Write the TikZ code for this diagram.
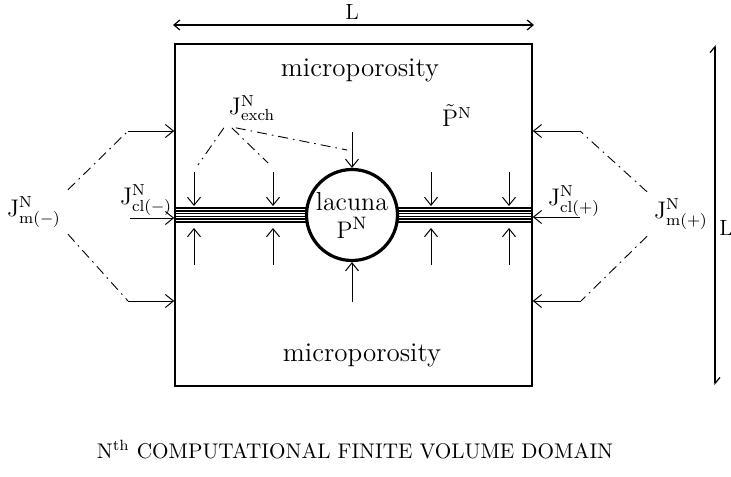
\documentclass[tikz,border=0pt]{standalone}
\usetikzlibrary{arrows.meta,positioning}
\begin{document}
\begin{tikzpicture}[
    x=0.5pt, y=-0.5pt,
    every node/.style={font=\fontsize{12}{14}\selectfont},
    fvbox/.style={rectangle, draw, line width=0.8pt, minimum width=178.5pt, minimum height=171pt, inner sep=0pt},
    lacuna/.style={circle, draw, fill=white, line width=1.6pt, minimum size=45.5pt, inner sep=0pt, align=center, font=\fontsize{13}{15}\selectfont},
    flux/.style={-{Straight Barb[length=4pt,width=6.5pt]}, line width=0.5pt},
    link/.style={line width=0.45pt, dash pattern=on 5pt off 2.5pt on 0.8pt off 2.5pt},
    band/.style={line width=0.75pt},
    dimline/.style={line width=0.6pt},
    porous/.style={font=\fontsize{13.5}{15}\selectfont},
    lbl/.style={font=\fontsize{11}{13}\selectfont, inner sep=1pt}
  ]
    \useasboundingbox (0,0) rectangle (731,476);
    \node[fvbox] (dom) at (353.5,215) {};
    \foreach \s in {-3.4,-2.04,-0.68,0.68,2.04,3.4}
      \draw[band] ([yshift=\s pt]dom.west) -- ([yshift=\s pt]dom.east);
    \node[lacuna] (lac) at (352,215) {lacuna\\[-1pt]$\mathrm{P}^{\mathrm{N}}$};
    \node[porous] (mtop) at (360,70) {microporosity};
    \node[porous] (mbot) at (362,355) {microporosity};
    \node (pt) at (457,116) {$\tilde{\mathrm{P}}^{\mathrm{N}}$};
    \node (jex) at (252,108) {$\mathrm{J}^{\mathrm{N}}_{\mathrm{exch}}$};
    \node (jml) at (34,212) {$\mathrm{J}^{\mathrm{N}}_{\mathrm{m(-)}}$};
    \node (jmr) at (681,214) {$\mathrm{J}^{\mathrm{N}}_{\mathrm{m(+)}}$};
    \node (jcl) at (146,200) {$\mathrm{J}^{\mathrm{N}}_{\mathrm{cl(-)}}$};
    \node (jcr) at (574,201) {$\mathrm{J}^{\mathrm{N}}_{\mathrm{cl(+)}}$};
    \node[lbl] (lx) at (352,12) {L};
    \node[lbl] (ly) at (726,228) {L};
    \node[font=\fontsize{10.6}{13}\selectfont] (title) at (355,450) {N\textsuperscript{th} COMPUTATIONAL FINITE VOLUME DOMAIN};
    \coordinate (la) at (173,25);
    \coordinate (lb) at (534,25);
    \coordinate (va) at (715,45);
    \coordinate (vb) at (715,385);
    \draw[dimline, {Straight Barb[length=3pt,width=5pt]}-{Straight Barb[length=3pt,width=5pt]}] (la) -- (lb);
    \draw[dimline, {Straight Barb[harpoon,length=3pt,width=5pt]}-{Straight Barb[harpoon,length=3pt,width=5pt]}] (va) -- (vb);
    \foreach \x [count=\i] in {194,273,431,509} {
      \coordinate (dn\i) at (\x,172);
      \coordinate (up\i) at (\x,265);
      \draw[flux] (dn\i) -- ++(0,34);
      \draw[flux] (up\i) -- ++(0,-37);
    }
    \coordinate (ct) at (352,132);
    \coordinate (cb) at (352,302);
    \draw[flux] (ct) -- (lac.north);
    \draw[flux] (cb) -- (lac.south);
    \coordinate (e1) at (198,165);
    \coordinate (e2) at (268,163);
    \coordinate (e3) at (347,150);
    \draw[link] ([xshift=1pt]jex.south west) -- (e1);
    \draw[link] ([xshift=5pt]jex.south west) -- (e2);
    \draw[link] ([xshift=7pt]jex.south west) -- (e3);
    \coordinate (a1) at (128,131);
    \coordinate (a2) at (128,301);
    \draw[link] (jml.north east) -- (a1);
    \draw[link] (jml.south east) -- (a2);
    \draw[flux] (a1) -- (a1 -| dom.west);
    \draw[flux] (a2) -- (a2 -| dom.west);
    \coordinate (b1) at (580,131);
    \coordinate (b2) at (581,301);
    \draw[link] (jmr.north west) -- (b1);
    \draw[link] (jmr.south west) -- (b2);
    \draw[flux] (b1) -- (b1 -| dom.east);
    \draw[flux] (b2) -- (b2 -| dom.east);
    \coordinate (c1) at (130,218);
    \coordinate (c2) at (580,217);
    \draw[flux] (c1) -- (c1 -| dom.west);
    \draw[flux] (c2) -- (c2 -| dom.east);
  \end{tikzpicture}
\end{document}
